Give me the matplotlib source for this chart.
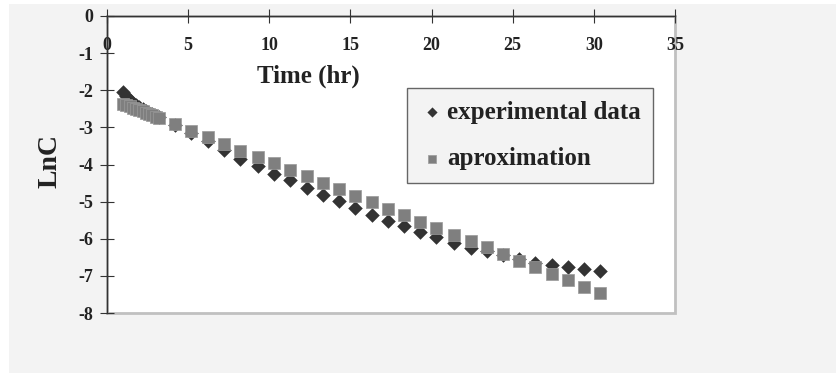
import matplotlib.pyplot as plt
from matplotlib.patches import Rectangle

# data
time_hr = [1.0, 1.2, 1.4, 1.6, 1.8, 2.0, 2.2, 2.4, 2.6, 2.8, 3.0,
           3.2, 4.2, 5.2, 6.2, 7.2, 8.2, 9.3, 10.3, 11.3, 12.3, 13.3, 14.3,
           15.3, 16.3, 17.3, 18.3, 19.3, 20.3, 21.4, 22.4, 23.4, 24.4, 25.4,
           26.4, 27.4, 28.4, 29.4, 30.4]
lnc_exp = [-2.05, -2.16, -2.26, -2.33, -2.39, -2.45, -2.50, -2.55, -2.60, -2.65, -2.69,
           -2.72, -2.94, -3.16, -3.37, -3.62, -3.84, -4.03, -4.26, -4.42, -4.62,
           -4.82, -4.99, -5.17, -5.35, -5.52, -5.65, -5.81, -5.95, -6.11, -6.26,
           -6.33, -6.44, -6.55, -6.64, -6.72, -6.77, -6.81, -6.87]
lnc_aprox = [-2.37, -2.40, -2.43, -2.47, -2.50, -2.54, -2.57, -2.61, -2.64, -2.68, -2.71,
             -2.74, -2.92, -3.10, -3.27, -3.45, -3.63, -3.80, -3.97, -4.14, -4.32,
             -4.49, -4.67, -4.85, -5.02, -5.19, -5.37, -5.54, -5.72, -5.89, -6.06,
             -6.23, -6.41, -6.59, -6.76, -6.94, -7.11, -7.29, -7.46]

plt.rcParams['font.family'] = 'Liberation Serif'
plt.rcParams['font.weight'] = 'bold'
plt.rcParams['axes.unicode_minus'] = False

W, H = 836, 373
fig = plt.figure(figsize=(W / 100, H / 100), dpi=100)
fig.patch.set_facecolor('white')
fig.patches.append(Rectangle((9 / W, 0), 1, 1 - 4 / H, transform=fig.transFigure,
                             facecolor='#f3f3f3', edgecolor='none', zorder=-10))

ax = fig.add_axes([107 / W, 1 - 313 / H, (675 - 107) / W, (313 - 16) / H])
ax.set_facecolor('white')
ax.patch.set_edgecolor('#c0c0c0')
ax.patch.set_linewidth(2)

ax.scatter(time_hr, lnc_exp, marker='D', s=55, color='#333333', linewidths=0,
           zorder=3, label='experimental data')
ax.scatter(time_hr, lnc_aprox, marker='s', s=80, color='#7f7f7f', edgecolors='#9a9a9a',
           linewidths=0.5, zorder=4, label='aproximation')

ax.set_xlim(0, 35)
ax.set_ylim(-8, 0)
ax.set_xticks(range(0, 36, 5))
ax.set_yticks(range(-8, 1))

ax.spines['bottom'].set_position(('data', 0))
ax.spines['top'].set_visible(False)
ax.spines['right'].set_visible(False)
for s in ('bottom', 'left'):
    ax.spines[s].set_color('#333333')
    ax.spines[s].set_linewidth(1)

ax.tick_params(direction='inout', length=10, width=0.8, color='#333333',
               labelsize=13, labelcolor='#222222')
ax.tick_params(axis='x', pad=10)
ax.tick_params(axis='y', pad=5)

ax.set_xlabel('Time (hr)', fontsize=18, fontweight='bold', color='#222222', va='center')
ax.xaxis.set_label_coords((308 - 107) / 568, 1 - (76 - 16) / 297)
ax.set_ylabel('LnC', fontsize=20, fontweight='bold', color='#222222', va='center')
ax.yaxis.set_label_coords((50 - 107) / 568, 1 - (161 - 16) / 297)

leg = ax.legend(loc='upper left', bbox_to_anchor=((407 - 107) / 568, 1 - (88 - 16) / 297),
                borderaxespad=0, fontsize=18, frameon=True, fancybox=False,
                handlelength=1, handletextpad=0.1, borderpad=0.5, labelspacing=0.95,
                markerscale=0.7)
leg.get_frame().set_facecolor('#f3f3f3')
leg.get_frame().set_edgecolor('#666666')
leg.get_frame().set_alpha(1)
for t in leg.get_texts():
    t.set_color('#222222')

plt.savefig('out.png', dpi=100)
